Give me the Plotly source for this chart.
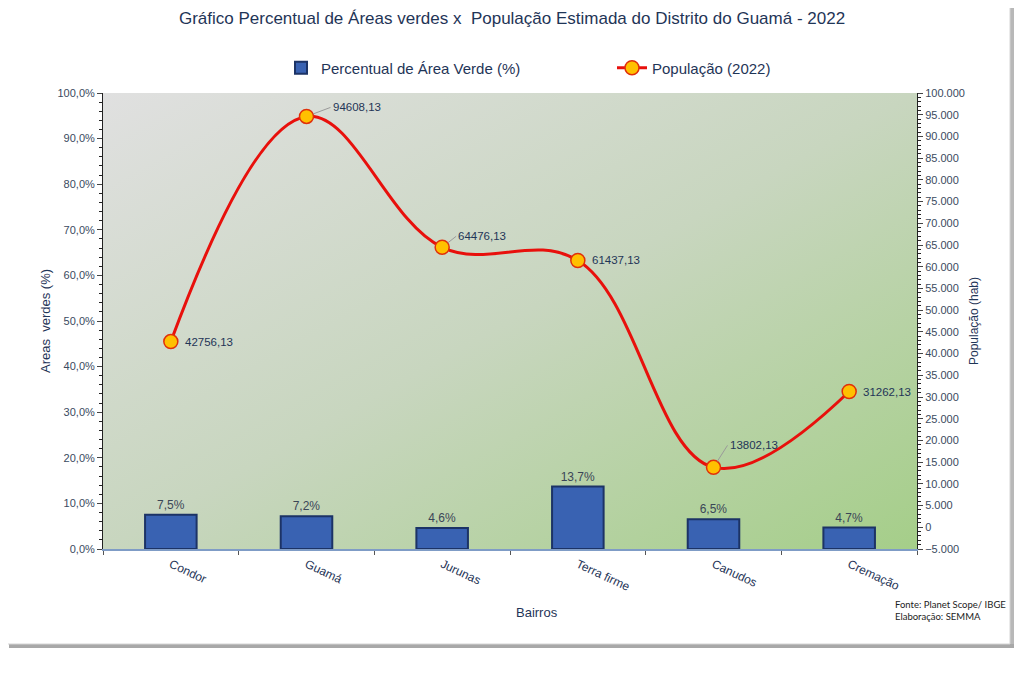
import base64

import plotly.graph_objects as go

# data
bairros = ["Condor", "Guamá", "Jurunas", "Terra firme", "Canudos", "Cremação"]
perc_area_verde = [0.075, 0.072, 0.046, 0.137, 0.065, 0.047]
populacao = [42756.13, 94608.13, 64476.13, 61437.13, 13802.13, 31262.13]

# label placement (pixel offsets) for the population labels
label_dx = [0, 24, 14, 0, 14, 0]
label_dy = [0, -9, -11, 0, -22, 0]

# page body has an 8px margin, so the figure is shifted by OFF
OFF = 8
W, H = 1008, 659
L, R, T, B = 95, 99, 85, 118
TXT = "#1f3557"
FONT = "Liberation Sans, Arial, sans-serif"


def px(x):
    return (x - OFF - L) / (W - L - R)


def py(y):
    return (H - B - (y - OFF)) / (H - T - B)


# gradient background for the plot area
svg = (
    "<svg xmlns='http://www.w3.org/2000/svg' width='200' height='200' preserveAspectRatio='none'>"
    "<defs><linearGradient id='g' x1='0' y1='0' x2='1' y2='1'>"
    "<stop offset='0' stop-color='#e0e0e0'/>"
    "<stop offset='0.5' stop-color='#c8d6bf'/>"
    "<stop offset='1' stop-color='#a5ce89'/>"
    "</linearGradient></defs>"
    "<rect width='200' height='200' fill='url(#g)'/></svg>"
)
grad_src = "data:image/svg+xml;base64," + base64.b64encode(svg.encode()).decode()

fig = go.Figure()

fig.add_trace(
    go.Bar(
        x=bairros,
        y=perc_area_verde,
        name="Percentual de Área Verde (%)",
        width=0.38,
        marker=dict(color="#3962b2", line=dict(color="#1c3366", width=2)),
        texttemplate="%{y:.1%}",
        textposition="outside",
        textfont=dict(size=12, color="#3b4657"),
        cliponaxis=False,
        yaxis="y",
    )
)

fig.add_trace(
    go.Scatter(
        x=bairros,
        y=populacao,
        name="População (2022)",
        mode="lines+markers",
        line=dict(color="#e8100c", width=3, shape="spline", smoothing=1.1),
        marker=dict(size=14, color="#ffc000", line=dict(color="#e0300a", width=1.5)),
        yaxis="y2",
    )
)

# population labels
for b, v, dx, dy in zip(bairros, populacao, label_dx, label_dy):
    txt = f"{v:.2f}".replace(".", ",")
    if dx == 0:
        fig.add_annotation(
            x=b, y=v, xref="x", yref="y2", text=txt, showarrow=False,
            xanchor="left", xshift=12, font=dict(size=11.5, color=TXT),
        )
    else:
        fig.add_annotation(
            x=b, y=v, xref="x", yref="y2", text=txt, showarrow=True,
            arrowhead=0, arrowwidth=1, arrowcolor="#9a9a9a", standoff=7,
            ax=dx, ay=dy, xanchor="left", font=dict(size=11.5, color=TXT),
        )

# axis title for x and source note
fig.add_annotation(
    x=px(537), y=py(622), xref="paper", yref="paper", text="Bairros",
    showarrow=False, font=dict(size=13, color=TXT),
)
fig.add_annotation(
    x=px(1008), y=py(624), xref="paper", yref="paper",
    text="Fonte: Planet Scope/ IBGE<br>Elaboração: SEMMA",
    showarrow=False, xanchor="right", align="left",
    font=dict(size=9.5, color="#222222", family="Lato, Roboto, sans-serif"),
)

# card frame with shadow (outline + shadow strips only)
fig.add_shape(type="rect", xref="paper", yref="paper",
              x0=px(1010), x1=px(1014), y0=py(6), y1=py(648),
              line=dict(width=0), fillcolor="#b8b8b8", layer="below")
fig.add_shape(type="rect", xref="paper", yref="paper",
              x0=px(9), x1=px(1014), y0=py(644), y1=py(648),
              line=dict(width=0), fillcolor="#a8a8a8", layer="below")
fig.add_shape(type="rect", xref="paper", yref="paper",
              x0=px(5), x1=px(1010), y0=py(2), y1=py(644),
              line=dict(color="#d4d4d4", width=1), layer="below")

fig.add_layout_image(
    source=grad_src, xref="paper", yref="paper", x=0, y=1,
    sizex=1, sizey=1, sizing="stretch", xanchor="left", yanchor="top",
    layer="below",
)

fig.update_layout(
    width=W,
    height=H,
    margin=dict(l=L, r=R, t=T, b=B),
    paper_bgcolor="white",
    plot_bgcolor="rgba(0,0,0,0)",
    separators=",.",
    font=dict(family=FONT, color=TXT),
    title=dict(
        text="Gráfico Percentual de Áreas verdes x  População Estimada do Distrito do Guamá - 2022",
        x=px(512), xref="paper", y=1 - (18 - OFF) / H, yref="container",
        xanchor="center", yanchor="middle",
        font=dict(size=17, color=TXT),
    ),
    legend=dict(
        orientation="h", x=px(281), xanchor="left", y=py(68), yanchor="middle",
        font=dict(size=15, color=TXT), bgcolor="rgba(0,0,0,0)",
        itemwidth=30, entrywidth=286,
    ),
    xaxis=dict(
        tickangle=25,
        tickson="boundaries",
        ticks="outside",
        ticklen=4,
        tickcolor="#555555",
        showline=True,
        linecolor="#7f9cc6",
        linewidth=2,
        showgrid=False,
        ticklabelstandoff=2,
        tickfont=dict(size=12, color=TXT),
    ),
    yaxis=dict(
        range=[0, 1],
        dtick=0.1,
        tickformat=".1%",
        showgrid=False,
        zeroline=False,
        showline=True,
        linecolor="#222222",
        linewidth=1,
        ticks="outside",
        ticklen=5,
        minor=dict(ticks="outside", dtick=0.02, ticklen=3, tickcolor="#222222"),
        tickfont=dict(size=11, color="#3a4a60"),
        title=dict(text="Areas  verdes (%)", font=dict(size=13, color=TXT), standoff=3),
    ),
    yaxis2=dict(
        range=[-5000, 100000],
        dtick=5000,
        tick0=0,
        tickformat=",d",
        overlaying="y",
        side="right",
        showgrid=False,
        zeroline=False,
        showline=True,
        linecolor="#222222",
        linewidth=1,
        ticks="outside",
        ticklen=5,
        minor=dict(ticks="outside", dtick=1000, ticklen=3, tickcolor="#222222"),
        tickfont=dict(size=11, color="#3a4a60"),
        title=dict(text="População (hab)", font=dict(size=12, color=TXT), standoff=5),
    ),
    bargap=0.6,
)

fig.write_html("out.html")
